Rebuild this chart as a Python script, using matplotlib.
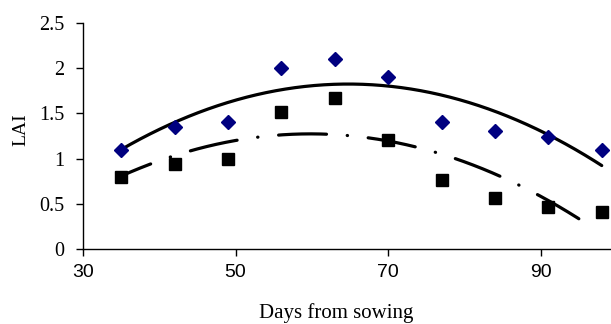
import numpy as np
import matplotlib
matplotlib.use("Agg")
import matplotlib.pyplot as plt

# LAI over days from sowing, two treatments
days = [35, 42, 49, 56, 63, 70, 77, 84, 91, 98]
lai_diamond = [1.10, 1.35, 1.41, 2.00, 2.10, 1.90, 1.41, 1.31, 1.24, 1.10]
lai_square = [0.80, 0.94, 1.00, 1.51, 1.67, 1.21, 0.76, 0.56, 0.47, 0.41]

x_ticks = [30, 50, 70, 90]
y_ticks = [0, 0.5, 1, 1.5, 2, 2.5]
y_tick_labels = ["0", "0.5", "1", "1.5", "2", "2.5"]

fig = plt.figure(figsize=(6.11, 3.24), dpi=100)
ax = fig.add_axes([0.1358, 0.2315, 0.874, 0.6975])

# second-order polynomial trend lines (as in the spreadsheet)
xs = np.linspace(35, 98, 200)
xs2 = np.linspace(35, 97, 200)
fit_d = np.polyval(np.polyfit(days, lai_diamond, 2), xs)
fit_s = np.polyval(np.polyfit(days, lai_square, 2), xs2)

ax.plot(xs, fit_d, color="black", lw=2.3, solid_capstyle="round", zorder=2)
ax.plot(xs2, fit_s, color="black", lw=2.3, dash_capstyle="round",
        linestyle=(5, (15, 6.5, 0.1, 6.5)), zorder=2)

ax.plot(days, lai_diamond, linestyle="none", marker="D", ms=7,
        color="#000080", zorder=3, clip_on=False)
ax.plot(days, lai_square, linestyle="none", marker="s", ms=9,
        color="black", zorder=3, clip_on=False)

ax.set_xlim(30, 100)
ax.set_ylim(0, 2.5)
ax.set_xticks(x_ticks)
ax.set_yticks(y_ticks)
ax.set_yticklabels(y_tick_labels)

for lab in ax.get_xticklabels():
    lab.set_fontfamily("Liberation Sans")
    lab.set_fontsize(14)
for lab in ax.get_yticklabels():
    lab.set_fontfamily("Liberation Serif")
    lab.set_fontsize(14.5)

ax.tick_params(axis="x", direction="out", length=5, width=1, pad=6)
ax.tick_params(axis="y", direction="out", length=5, width=1, pad=8.5)

ax.spines["top"].set_visible(False)
ax.spines["right"].set_visible(False)
ax.spines["left"].set_linewidth(1)
ax.spines["bottom"].set_linewidth(1)

fig.text(0.035, 0.6, "LAI", family="Liberation Serif", fontsize=14,
         rotation=90, ha="center", va="center")
fig.text(0.55, 0.035, "Days from sowing", family="Liberation Serif",
         fontsize=15, ha="center", va="center")

fig.savefig("out.png", dpi=100)
